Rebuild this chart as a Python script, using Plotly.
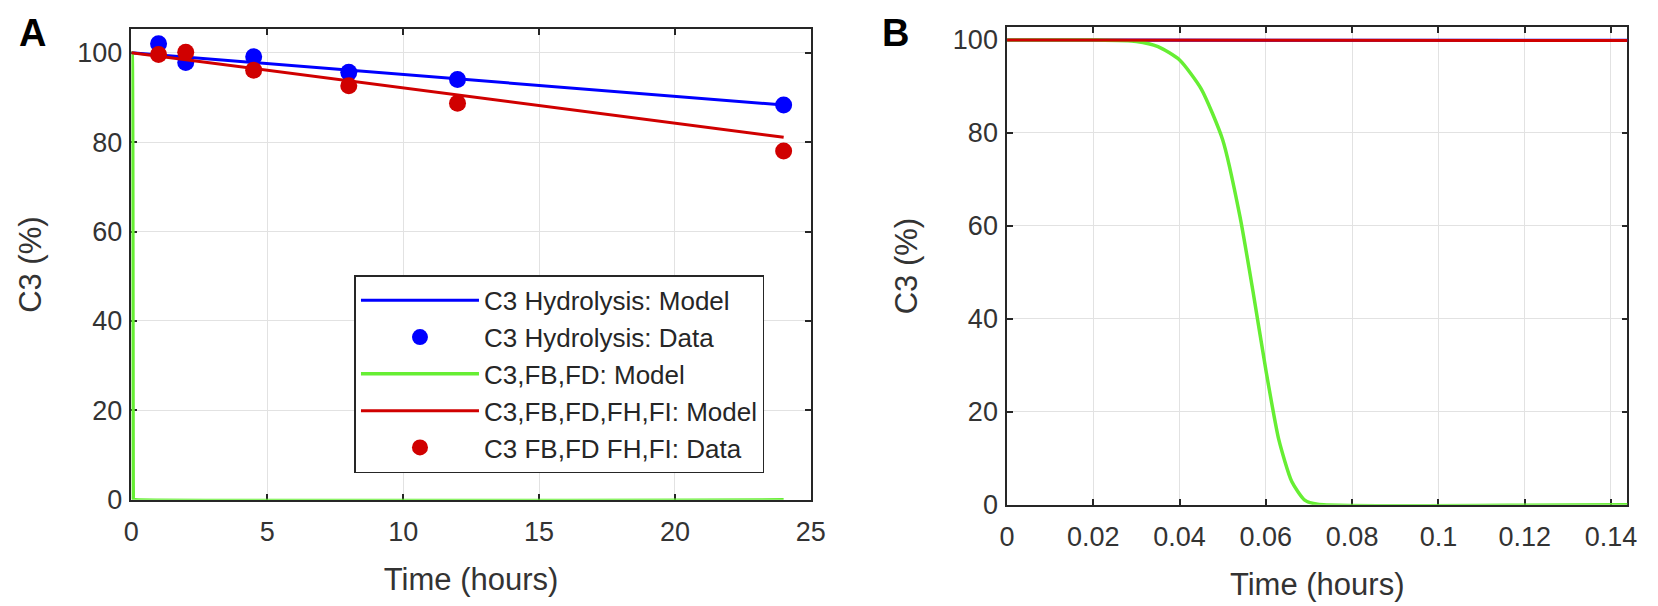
import plotly.graph_objects as go

# model curves (time in hours, C3 in %)
hydro_model_t = [0, 24]
hydro_model_c3 = [100, 88.3]
fbfd_model_t = [0, 0.02, 0.03, 0.035, 0.04, 0.045, 0.05, 0.054, 0.057, 0.06,
                0.063, 0.066, 0.069, 0.072, 0.144, 24]
fbfd_model_c3 = [100, 100, 99.7, 98.6, 95.7, 89.5, 78.5, 62, 46, 29,
                 14, 5, 1, 0.1, 0, 0]
fhfi_model_t = [0, 24]
fhfi_model_c3 = [100, 81.1]

# measured points
data_t = [1, 2, 4.5, 8, 12, 24]
hydro_data_c3 = [102, 97.8, 99.1, 95.6, 94, 88.3]
fhfi_data_c3 = [99.6, 100.1, 96.1, 92.6, 88.7, 78]

names = ['C3 Hydrolysis: Model', 'C3 Hydrolysis: Data', 'C3,FB,FD: Model',
         'C3,FB,FD,FH,FI: Model', 'C3 FB,FD FH,FI: Data']

y_ticks = [0, 20, 40, 60, 80, 100]
xa_ticks = [0, 5, 10, 15, 20, 25]
xb_ticks = [0, 0.02, 0.04, 0.06, 0.08, 0.1, 0.12, 0.14]
xb_labels = ['0', '0.02', '0.04', '0.06', '0.08', '0.1', '0.12', '0.14']

BLUE = '#0000FF'
GREEN = '#66EE33'
RED = '#D00000'
TXT = '#333333'
W, H = 1658, 606


def px_x(v):
    return v / W


def px_y(v):
    return 1 - v / H


fig = go.Figure()

# panel A
fig.add_trace(go.Scatter(x=hydro_model_t, y=hydro_model_c3, mode='lines', name=names[0],
                         line=dict(color=BLUE, width=3), xaxis='x', yaxis='y'))
fig.add_trace(go.Scatter(x=data_t, y=hydro_data_c3, mode='markers', name=names[1],
                         marker=dict(color=BLUE, size=17), xaxis='x', yaxis='y'))
fig.add_trace(go.Scatter(x=fbfd_model_t, y=fbfd_model_c3, mode='lines', name=names[2],
                         line=dict(color=GREEN, width=3.5, shape='spline', smoothing=0.6),
                         xaxis='x', yaxis='y'))
fig.add_trace(go.Scatter(x=fhfi_model_t, y=fhfi_model_c3, mode='lines', name=names[3],
                         line=dict(color=RED, width=3), xaxis='x', yaxis='y'))
fig.add_trace(go.Scatter(x=data_t, y=fhfi_data_c3, mode='markers', name=names[4],
                         marker=dict(color=RED, size=17), xaxis='x', yaxis='y'))

# panel B (same model curves, zoomed into the first minutes)
fig.add_trace(go.Scatter(x=hydro_model_t, y=hydro_model_c3, mode='lines', showlegend=False,
                         line=dict(color=BLUE, width=3), xaxis='x2', yaxis='y2'))
fig.add_trace(go.Scatter(x=fbfd_model_t, y=fbfd_model_c3, mode='lines', showlegend=False,
                         line=dict(color=GREEN, width=3.5, shape='spline', smoothing=0.6),
                         xaxis='x2', yaxis='y2'))
fig.add_trace(go.Scatter(x=fhfi_model_t, y=fhfi_model_c3, mode='lines', showlegend=False,
                         line=dict(color=RED, width=3), xaxis='x2', yaxis='y2'))

axis_style = dict(showline=True, linecolor='#262626', linewidth=1.5, mirror='ticks',
                  ticks='inside', ticklen=6, tickcolor='#262626', tickwidth=1.5,
                  showgrid=True, gridcolor='#e2e2e2', gridwidth=1, zeroline=False,
                  tickfont=dict(size=27, color=TXT), layer='below traces')
title_font = dict(size=31, color=TXT)

fig.update_layout(
    width=W, height=H,
    margin=dict(l=0, r=0, t=0, b=0),
    paper_bgcolor='white', plot_bgcolor='white',
    font=dict(family='Liberation Sans, Arial, sans-serif', color=TXT),
    xaxis=dict(domain=[px_x(117), px_x(806)], range=[0, 25], tickvals=xa_ticks,
               title=dict(text='Time (hours)', font=title_font, standoff=22),
               ticklabelstandoff=7, anchor='y', **axis_style),
    yaxis=dict(domain=[px_y(504), px_y(20)], range=[0, 105.2], tickvals=y_ticks,
               title=dict(text='C3 (%)', font=title_font, standoff=26),
               ticklabelstandoff=2, anchor='x', **axis_style),
    xaxis2=dict(domain=[px_x(1005), px_x(1634)], range=[0, 0.1438], tickvals=xb_ticks,
                ticktext=xb_labels,
                title=dict(text='Time (hours)', font=title_font, standoff=22),
                ticklabelstandoff=7, anchor='y2', **axis_style),
    yaxis2=dict(domain=[px_y(509), px_y(18)], range=[0, 102.7], tickvals=y_ticks,
                title=dict(text='C3 (%)', font=title_font, standoff=26),
                ticklabelstandoff=2, anchor='x2', **axis_style),
    legend=dict(x=px_x(759), y=px_y(273), xanchor='right', yanchor='top',
                bgcolor='white', bordercolor='#262626', borderwidth=1.5,
                font=dict(size=26, color='#262626'), tracegroupgap=0, itemwidth=118),
    annotations=[
        dict(text='<b>A</b>', x=px_x(17), y=px_y(24), xref='paper', yref='paper',
             xanchor='center', yanchor='middle', showarrow=False,
             font=dict(size=38, color='black')),
        dict(text='<b>B</b>', x=px_x(892), y=px_y(24), xref='paper', yref='paper',
             xanchor='center', yanchor='middle', showarrow=False,
             font=dict(size=38, color='black')),
    ],
)

fig.write_html('out.html')
